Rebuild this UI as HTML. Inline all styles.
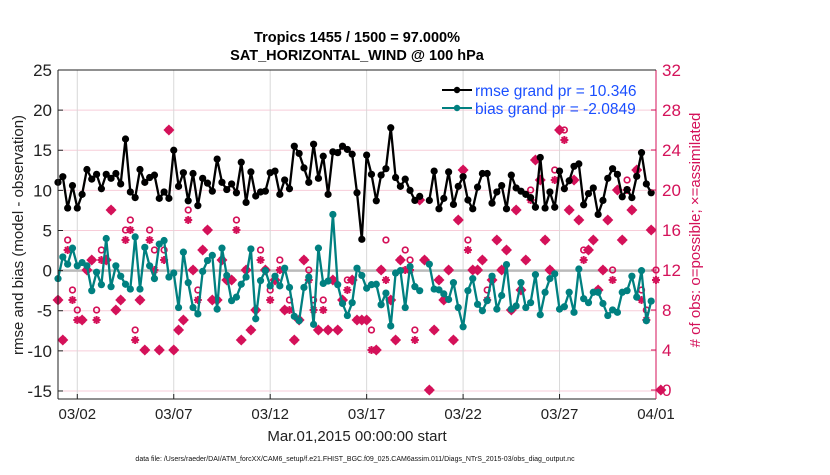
<!DOCTYPE html>
<html><head><meta charset="utf-8"><style>
html,body{margin:0;padding:0;background:#fff;}
svg text{font-family:"Liberation Sans",Arial,sans-serif;}
</style></head><body>
<svg id="chart" width="830" height="470" viewBox="0 0 830 470" xmlns="http://www.w3.org/2000/svg">
<g id="grid"></g>
<g id="marks"></g>
<g id="axes"></g>
<text x="357" y="42" text-anchor="middle" font-size="14.5" font-weight="bold">Tropics 1455 / 1500 = 97.000%</text>
<text x="357" y="60" text-anchor="middle" font-size="14.5" font-weight="bold">SAT_HORIZONTAL_WIND @ 100 hPa</text>
<text transform="translate(23,235) rotate(-90)" text-anchor="middle" font-size="15" fill="#222">rmse and bias (model - observation)</text>
<text transform="translate(700,230) rotate(-90)" text-anchor="middle" font-size="15" fill="#d41159"># of obs: o=possible; ×=assimilated</text>
<text x="357" y="441" text-anchor="middle" font-size="15" fill="#222">Mar.01,2015 00:00:00 start</text>
<text x="355" y="461" text-anchor="middle" font-size="7" fill="#111">data file: /Users/raeder/DAI/ATM_forcXX/CAM6_setup/f.e21.FHIST_BGC.f09_025.CAM6assim.011/Diags_NTrS_2015-03/obs_diag_output.nc</text>
<g>
<line x1="442" y1="90" x2="472" y2="90" stroke="#000" stroke-width="2"/><circle cx="457" cy="90" r="3.2" fill="#000"/>
<text x="475" y="96" font-size="15.5" fill="#1a4fff">rmse grand pr = 10.346</text>
<line x1="442" y1="108" x2="472" y2="108" stroke="#008080" stroke-width="2"/><circle cx="457" cy="108" r="3.2" fill="#008080"/>
<text x="475" y="114" font-size="15.5" fill="#1a4fff">bias grand pr = -2.0849</text>
</g>
</svg>
<script>
const rmse=[11,11.7,7.8,10.6,7.8,9.5,12.6,11.4,12,10.2,12,11.5,12.1,10.8,16.4,9.8,9.1,12.6,11,11.6,11.9,9,9.8,9,15,10.5,12.2,8.7,12.1,8.1,11.5,10.9,9.9,13.9,11,10.1,10.8,9.7,13.5,8.5,12.3,9.3,9.8,9.9,12.2,12.4,9.5,11.3,10.2,15.5,14.6,12.8,11,15.75,11.5,14.25,9.5,14.8,14.7,15.5,15.1,14.5,9.7,3.9,14.4,12,8.7,11.9,12.7,17.8,11.6,10.5,11.4,10,8.75,9.25,null,8.75,12.4,7.7,9,12.3,8.25,10.5,11.7,8.8,7.7,10.4,12.1,12.1,8.4,9.8,10.6,7.7,11.9,10.3,9.9,9.5,9.1,7.9,14.1,7.8,9.8,7.9,12.4,10.2,11.2,13,13.3,8.2,9.6,10.3,7,8.75,11.5,12.7,12,9.2,10.1,9.1,11.75,14.7,10.8,9.7,null];
const bias=[-1,1.7,0.8,2.8,0.6,1,0.6,-2.5,-0.2,-1.75,4,-2,0.6,-0.7,-1.7,-2.3,4.2,-2.3,2.9,0.6,-1,3.3,3.75,-0.8,-0.3,-4.6,2.3,-1.5,-4.6,-5.4,-0.1,1.25,1.9,-4.8,2.8,-0.6,-3.75,-3.3,-1.7,-0.8,2.7,-6,-1.25,0,-1.9,-0.7,-1.9,0.3,-2.1,-5.7,-6.25,-2.1,-0.8,-6.7,2.8,-1.6,-1.3,7,-1.75,-4.1,-5.6,-4,0.3,-0.6,-2.2,-1.75,-1.7,-4.25,-2.8,-6.9,-0.3,0,-4.6,0.5,-2,-2.5,null,0.8,-2.3,-2.4,-2.9,-3.6,-1.5,-4.6,-7,-2.5,-1,-4.2,-5,-3.75,-0.7,-4.8,-3.1,0.75,-4.8,-4.4,-1.5,-4.6,-4,-0.5,-5.5,-2.7,-1,-0.4,-4.8,-4.5,-2.7,-5.2,0.2,-3.5,-4,-2.7,-2.7,-4.1,-5.6,-4.9,-5.2,-2.7,-2.5,-0.7,-3.3,0,-6.25,-3.8,null];
const possible=[9,5,15,10,8,7,12,13,8,14,13,18,8,9,16,17,6,9,4,16,14,4,14,26,4,6,7,18,12,10,14,16,9,9,13,11,11,17,5,12,6,8,14,12,10,11,13,8,9,5,7,13,12,9,6,9,6,11,6,9,11,11,7,7,7,6,4,12,15,9,5,13,14,13,6,19,13,0,6,11,9,12,5,17,22,15,12,12,13,10,11,15,12,14,8,18,10,13,20,23,21,15,12,22,26,26,18,21,17,14,14,15,10,12,17,12,20,15,21,18,22,10,8,16,12,0];
const assimilated=[9,5,14,9,7,7,12,13,7,13,13,18,8,9,15,16,5,9,4,15,12,4,13,26,4,6,7,17,12,9,14,16,9,9,13,11,11,16,5,12,6,8,13,12,9,11,12,8,8,5,7,13,11,8,6,8,6,11,6,9,10,11,7,7,7,4,4,12,11,9,5,13,12,12,5,19,13,0,6,11,9,12,5,17,22,14,12,12,13,9,11,15,12,14,8,18,10,13,19,23,21,15,12,21,26,25,18,21,17,13,14,15,10,12,17,11,20,15,20,18,22,9,7,16,11,0];
const leftTicks=[-15,-10,-5,0,5,10,15,20,25];
const rightTicks=[0,4,8,12,16,20,24,28,32];
const xTickDays=[1,6,11,16,21,26,31];
const xTickLabels=["03/02","03/07","03/12","03/17","03/22","03/27","04/01"];

const L=58,R=656,T=70,B=399;
const yMin=-16,yMax=25,y2Min=-0.9,y2Max=32,xDays=31;
const PINK="#d41159",TEAL="#008080";
const X=d=>L+(d/xDays)*(R-L);
const Xi=i=>X(i/4);
const Y=v=>B-(v-yMin)/(yMax-yMin)*(B-T);
const Y2=v=>B-(v-y2Min)/(y2Max-y2Min)*(B-T);
const NS="http://www.w3.org/2000/svg";
function mk(tag,attrs,parent){const e=document.createElementNS(NS,tag);for(const k in attrs)e.setAttribute(k,attrs[k]);parent.appendChild(e);return e;}
const grid=document.getElementById('grid'),marks=document.getElementById('marks'),axes=document.getElementById('axes');

leftTicks.forEach(v=>{
 const g=mk('line',{x1:L,x2:R,y1:Y(v),y2:Y(v),stroke:'#f7cdd9','stroke-width':1},grid);
 
 
 const t=mk('text',{x:L-6,y:Y(v)+6,'text-anchor':'end','font-size':17,fill:'#222'},axes);
 t.textContent=v;
 
 
 mk('line',{x1:L,x2:L+5,y1:Y(v),y2:Y(v),stroke:'#222'},axes);
});
xTickDays.forEach((d,k)=>{
 const g=mk('line',{x1:X(d),x2:X(d),y1:T,y2:B,stroke:'#d8d8d8','stroke-width':1},grid);
 
 
 mk('line',{x1:X(d),x2:X(d),y1:B,y2:B-5,stroke:'#222'},axes);
 const t=mk('text',{x:X(d),y:B+20,'text-anchor':'middle','font-size':15,fill:'#222'},axes);
 t.textContent=xTickLabels[k];
 
 
});
rightTicks.forEach(v=>{
 mk('line',{x1:R,x2:R-5,y1:Y2(v),y2:Y2(v),stroke:PINK},axes);
 const t=mk('text',{x:R+6,y:Y2(v)+6,'font-size':17,fill:PINK},axes);
 t.textContent=v;
 
 
});
const z=mk('line',{x1:L,x2:R,y1:Y(0),y2:Y(0),stroke:'#bbb','stroke-width':2.5},grid);



possible.forEach((n,i)=>{
 const c=mk('circle',{cx:Xi(i),cy:Y2(n),r:2.8,fill:'none',stroke:PINK,'stroke-width':1.7},marks);
 
 
});
assimilated.forEach((n,i)=>{
 const x=Xi(i),y=Y2(n),s=4;
 const g=mk('path',{d:`M${x-s} ${y}H${x+s}M${x} ${y-s}V${y+s}M${x-s*0.7} ${y-s*0.7}L${x+s*0.7} ${y+s*0.7}M${x-s*0.7} ${y+s*0.7}L${x+s*0.7} ${y-s*0.7}`,stroke:PINK,'stroke-width':2},marks);
 
 
 if(n===possible[i]){
  const d=mk('path',{d:`M${x} ${y-5.5}L${x+5.5} ${y}L${x} ${y+5.5}L${x-5.5} ${y}Z`,fill:PINK},marks);
  
  
 }
});
function series(arr,color,name){
 let d='',pen=false;
 arr.forEach((v,i)=>{if(v===null){pen=false;return;}d+=(pen?'L':'M')+Xi(i).toFixed(1)+' '+Y(v).toFixed(1);pen=true;});
 const p=mk('path',{d:d,fill:'none',stroke:color,'stroke-width':2.3,'stroke-linejoin':'round'},marks);
 
 
 arr.forEach((v,i)=>{if(v===null)return;
  const c=mk('circle',{cx:Xi(i),cy:Y(v),r:3.6,fill:color},marks);
  
  
 });
}
series(bias,TEAL,'bias');
series(rmse,'#000','rmse');

mk('line',{x1:L,x2:L,y1:T,y2:B,stroke:'#222','stroke-width':1},axes);
mk('line',{x1:L,x2:R,y1:B,y2:B,stroke:'#222','stroke-width':1},axes);
mk('line',{x1:R,x2:R,y1:T,y2:B,stroke:PINK,'stroke-width':1},axes);
mk('line',{x1:L,x2:R,y1:T,y2:T,stroke:'#222','stroke-width':1},axes);
</script>
</body></html>
